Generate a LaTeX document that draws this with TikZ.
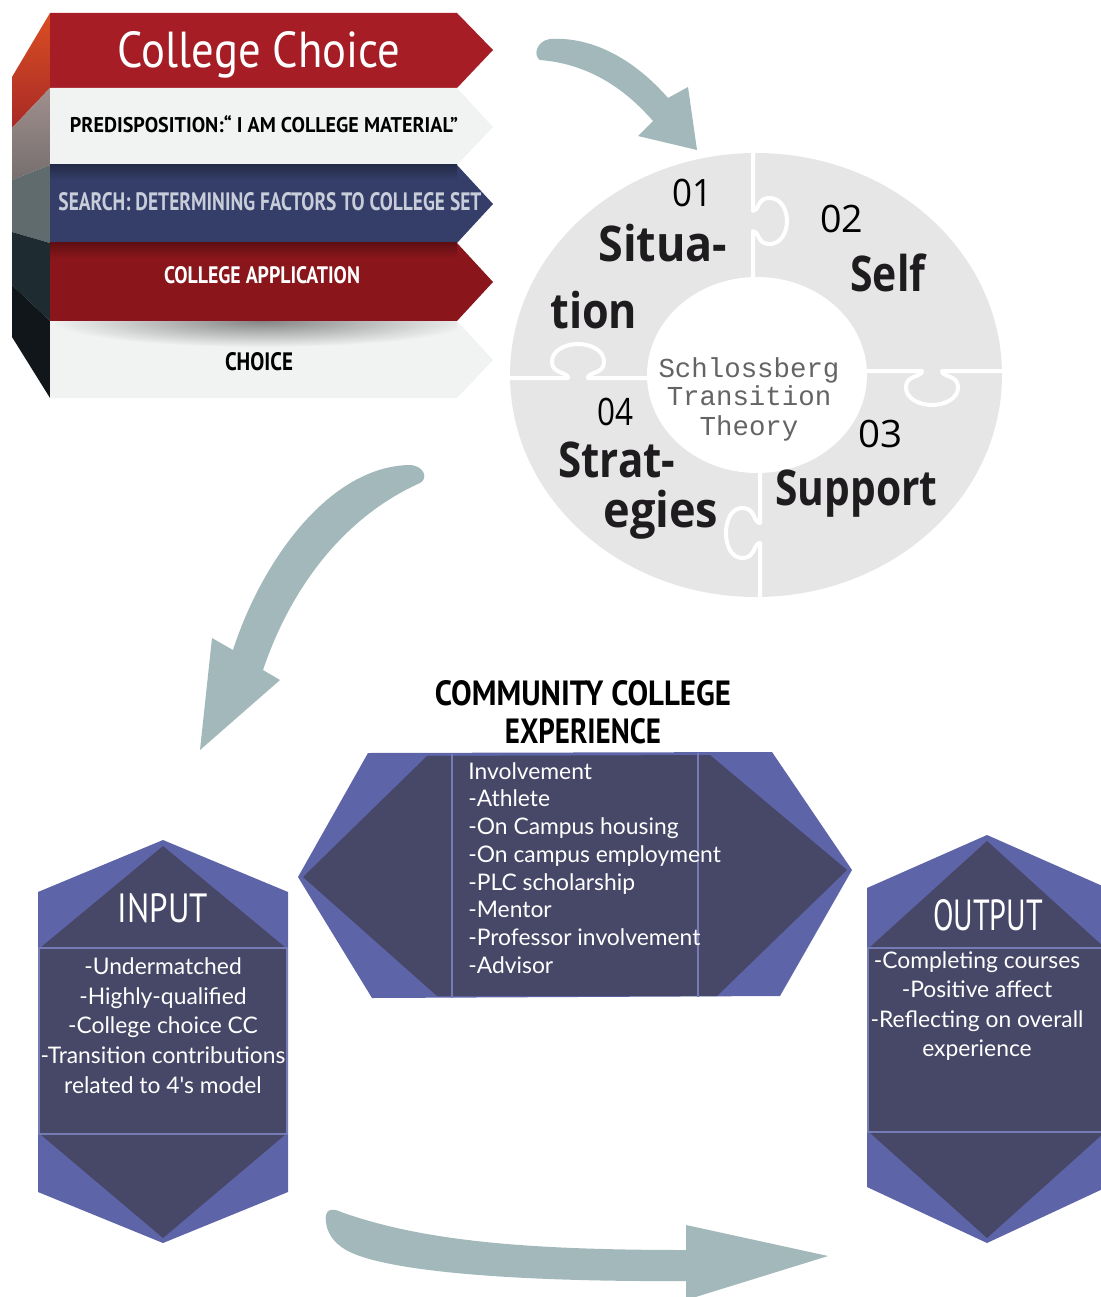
\documentclass[tikz,border=0pt]{standalone}
\usepackage{fontspec}
\usepackage{graphicx}
\usetikzlibrary{fadings}
\setmainfont{Lato}
\newfontfamily\capsfont{PT Sans}
\newfontfamily\puzzlefont{Open Sans}
\newfontfamily\codefont{Liberation Mono}
\newfontfamily\listfont{Lato}

\definecolor{bandred}{RGB}{166,29,38}
\definecolor{bandwhite}{RGB}{241,242,242}
\definecolor{bandblue}{RGB}{52,62,104}
\definecolor{bandmaroon}{RGB}{138,22,28}
\definecolor{sideAtop}{RGB}{217,78,34}
\definecolor{sideAbot}{RGB}{168,42,38}
\definecolor{sideBtop}{RGB}{160,144,142}
\definecolor{sideBbot}{RGB}{118,110,110}
\definecolor{sideC}{RGB}{95,107,108}
\definecolor{sideD}{RGB}{30,43,49}
\definecolor{sideE}{RGB}{16,22,26}
\definecolor{arrowteal}{RGB}{162,184,186}
\definecolor{puzzlegray}{RGB}{230,230,230}
\definecolor{codegray}{RGB}{100,100,100}
\definecolor{hexlight}{RGB}{93,100,168}
\definecolor{hexdark}{RGB}{71,71,104}
\definecolor{searchtext}{RGB}{200,205,218}
\definecolor{inkblack}{RGB}{30,28,30}

% one drawing unit is one pixel of the page
\newlength\pxu
\setlength\pxu{0.02cm}
% squeeze a text to a given width and height, or to a width only
\newcommand\fitbox[3]{\resizebox{#1\pxu}{#2\pxu}{#3}}
\newcommand\fitw[2]{\resizebox{#1\pxu}{\height}{#2}}

\tikzfading[name=softshadow, inner color=transparent!0, outer color=transparent!100]

\begin{document}
\begin{tikzpicture}[x=0.02cm, y=-0.02cm,
  flowarrow/.style={fill=arrowteal},
  gap/.style={draw=white, line width=0.08cm, line join=round},
  capslabel/.style={anchor=base, inner sep=0pt, font=\capsfont},
  bandlabel/.style={anchor=base, inner sep=0pt, font=\capsfont\bfseries},
  puzword/.style={anchor=base west, inner sep=0pt, text=inkblack,
    font={\puzzlefont\bfseries\fontsize{28}{32}\selectfont}},
  puznum/.style={anchor=base west, inner sep=0pt, text=black,
    font={\puzzlefont\fontsize{21.5}{24}\selectfont}},
  codeline/.style={anchor=base, inner sep=0pt, text=codegray,
    font={\codefont\fontsize{15.6}{18}\selectfont}},
  listtext/.style={inner sep=0pt, text=white},
  hexouter/.style={fill=hexlight},
  hexinner/.style={fill=hexdark},
  hexrule/.style={draw=hexlight!85!white, line width=0.05cm}
]
\useasboundingbox (0,0) rectangle (1101,1297);
\clip (0,0) rectangle (1101,1297);

% ---------- College choice stack ----------
% side faces
\shade[top color=sideAtop, bottom color=sideAbot] (12,77) -- (50,13) -- (50,88) -- (12,128) -- cycle;
\shade[top color=sideBtop, bottom color=sideBbot] (12,128) -- (50,88) -- (50,165) -- (12,180) -- cycle;
\fill[sideC] (12,180) -- (50,165) -- (50,243) -- (12,232) -- cycle;
\fill[sideD] (12,232) -- (50,243) -- (50,321) -- (12,285) -- cycle;
\fill[sideE] (12,285) -- (50,321) -- (50,398) -- (12,337) -- cycle;

% front bands
\fill[bandred] (50,13) -- (457,13) -- (493,50) -- (457,88) -- (50,88) -- cycle;
\fill[bandwhite] (50,88) -- (457,88) -- (493,127) -- (457,165) -- (50,165) -- cycle;
\fill[bandblue] (50,165) -- (457,165) -- (493,204) -- (457,243) -- (50,243) -- cycle;
\fill[bandmaroon] (50,243) -- (457,243) -- (493,282) -- (457,321) -- (50,321) -- cycle;
\fill[bandwhite] (50,321) -- (457,321) -- (493,360) -- (457,398) -- (50,398) -- cycle;

% soft shadows under the bands
\shade[top color=bandblue!70!black, bottom color=bandblue] (50,165) rectangle (457,180);
\shade[top color=bandmaroon!70!black, bottom color=bandmaroon] (50,243) rectangle (457,258);
\begin{scope}
  \clip (50,321) rectangle (457,398);
  \fill[black, opacity=0.45, path fading=softshadow] (262,321) ellipse [x radius=210, y radius=26];
\end{scope}

\node[capslabel, text=white] (title) at (259,68) {\fitbox{282}{36}{College Choice}};
\node[bandlabel, text=black] (predisp) at (264,133) {\fitbox{388}{17}{PREDISPOSITION:“ I AM COLLEGE MATERIAL”}};
\node[bandlabel, text=searchtext] (search) at (270,211) {\fitbox{423}{18}{SEARCH: DETERMINING FACTORS TO COLLEGE SET}};
\node[bandlabel, text=white] (apply) at (262,283) {\fitbox{196}{17}{COLLEGE APPLICATION}};
\node[bandlabel, text=black] (choice) at (259,370) {\fitbox{68}{18}{CHOICE}};

% ---------- curved arrows ----------
\fill[flowarrow] (540,60) .. controls (533,56) and (536,41) .. (550,39)
  .. controls (600,36) and (642,68) .. (668,98) -- (688,87) -- (697,150)
  -- (638,136) -- (653,121) .. controls (626,90) and (590,64) .. (540,60) -- cycle;

\fill[flowarrow] (263,670) .. controls (290,590) and (342,518) .. (420,483)
  .. controls (428,479) and (425,466) .. (410,465)
  .. controls (330,466) and (262,560) .. (233,650) -- (212,638) -- (200,750)
  -- (280,680) -- cycle;

\fill[flowarrow] (326,1222) .. controls (324,1210) and (331,1207) .. (341,1212)
  .. controls (420,1240) and (520,1250) .. (686,1250) -- (686,1225) -- (828,1256)
  -- (686,1300) -- (686,1281) .. controls (520,1282) and (385,1272) .. (346,1250)
  .. controls (334,1243) and (327,1233) .. (326,1222) -- cycle;

% ---------- Schlossberg puzzle ring ----------
\fill[puzzlegray] (756,375) ellipse [x radius=246, y radius=222];
\draw[gap] (753,148) -- (753,211) .. controls (759,211) and (757,199) .. (768,198)
  .. controls (781,197) and (787,210) .. (787,221) .. controls (787,232) and (781,245) .. (768,244)
  .. controls (757,243) and (759,231) .. (753,231) -- (753,285);
\draw[gap] (760,465) -- (760,523) .. controls (754,523) and (755,509) .. (744,508)
  .. controls (731,507) and (726,521) .. (726,533) .. controls (726,545) and (731,559) .. (744,558)
  .. controls (755,557) and (754,543) .. (760,543) -- (760,605);
\draw[gap] (505,378) -- (568,378) .. controls (568,372) and (553,374) .. (552,363)
  .. controls (551,350) and (566,344) .. (578,344) .. controls (590,344) and (605,350) .. (604,363)
  .. controls (603,374) and (588,372) .. (588,378) -- (655,378);
\draw[gap] (855,371) -- (922,371) .. controls (922,377) and (907,375) .. (906,386)
  .. controls (905,399) and (920,405) .. (932,405) .. controls (944,405) and (959,399) .. (958,386)
  .. controls (957,375) and (942,377) .. (942,371) -- (1010,371);
\fill[white] (757,375) ellipse [x radius=110, y radius=98];

\node[puznum] (n01) at (672,207) {\fitw{40}{01}};
\node[puzword] (situa) at (598,262) {\fitw{129}{Situa-}};
\node[puzword] (tion) at (550,328) {\fitw{87}{tion}};
\node[puznum] (n02) at (820,233) {\fitw{43}{02}};
\node[puzword] (self) at (850,292) {\fitw{75}{Self}};
\node[puznum] (n03) at (858,447) {\fitw{44}{03}};
\node[puzword] (support) at (775,505) {\fitw{162}{Support}};
\node[puznum] (n04) at (597,425) {\fitw{36}{04}};
\node[puzword] (strat) at (558,477) {\fitw{117}{Strat-}};
\node[puzword] (egies) at (603,527) {\fitw{115}{egies}};
\node[codeline] (th1) at (749,377) {Schlossberg};
\node[codeline] (th2) at (749,405) {Transition};
\node[codeline] (th3) at (749,435) {Theory};

% ---------- input / experience / output ----------
\node[bandlabel, text=black] (cchead) at (583,705) {\fitbox{296}{25}{COMMUNITY COLLEGE}};
\node[bandlabel, text=black] (cchead2) at (583,743) {\fitbox{156}{25}{EXPERIENCE}};

% input hexagon
\fill[hexouter] (163,840) -- (288,892) -- (288,1192) -- (163,1243) -- (38,1192) -- (38,892) -- cycle;
\fill[hexinner] (163,846) -- (286,948) -- (286,1134) -- (163,1238) -- (40,1134) -- (40,948) -- cycle;
\draw[hexrule] (39,948) rectangle (287,1134);
\node[capslabel, text=white] (inhead) at (163,922) {\fitbox{90}{29}{INPUT}};
\node[listtext, anchor=north, align=center, font={\listfont\fontsize{13}{17}\selectfont}] (inlist) at (163,957)
  {-Undermatched\\-Highly-qualified\\-College choice CC\\-Transition contributions\\related to 4's model};

% experience hexagon
\fill[hexouter] (298,877) -- (368,753) -- (772,752) -- (852,870) -- (780,996) -- (372,998) -- cycle;
\fill[hexinner] (303,877) -- (427,756) -- (710,755) -- (847,870) -- (717,996) -- (437,996) -- cycle;
\draw[hexrule] (452,754) -- (452,998);
\draw[hexrule] (698,753) -- (698,997);
\node[listtext, anchor=north west, align=left, font={\listfont\fontsize{13}{15.8}\selectfont}] (explist) at (468,762)
  {Involvement\\-Athlete\\-On Campus housing\\-On campus employment\\-PLC scholarship\\-Mentor\\-Professor involvement\\-Advisor};

% output hexagon
\fill[hexouter] (987,835) -- (1107,888) -- (1107,1187) -- (987,1243) -- (867,1187) -- (867,888) -- cycle;
\fill[hexinner] (987,841) -- (1105,948) -- (1105,1132) -- (987,1238) -- (869,1132) -- (869,948) -- cycle;
\draw[hexrule] (868,948) rectangle (1106,1132);
\node[capslabel, text=white] (outhead) at (988,930) {\fitbox{110}{31}{OUTPUT}};
\node[listtext, anchor=north, align=center, font={\listfont\fontsize{13}{16.8}\selectfont}] (outlist) at (977,951)
  {-Completing courses\\-Positive affect\\-Reflecting on overall\\experience};
\end{tikzpicture}
\end{document}
